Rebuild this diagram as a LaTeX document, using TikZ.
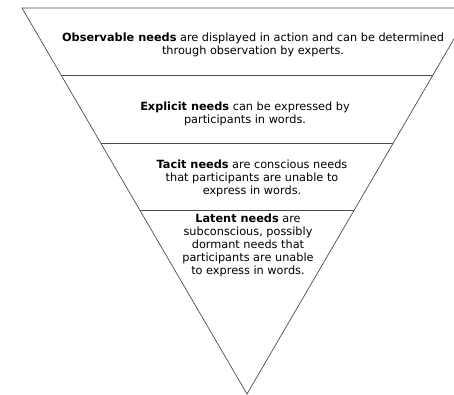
\documentclass[tikz,border=0pt]{standalone}
\usepackage{fontspec}
\setmainfont{DejaVu Sans}

\tikzset{
	layer/.style={draw=black!70, line width=0.7pt},
	needtext/.style={align=center, inner sep=0pt, font=\fontsize{11.3}{13}\selectfont}
}

\begin{document}
\begin{tikzpicture}[x=1pt, y=-1pt]
		\useasboundingbox (0, 0) rectangle (454, 395);
		\clip (0, 0) rectangle (454, 395);
		% funnel
		\draw[layer] (22, 8) -- (472, 8) -- (247, 394) -- cycle;
		\draw[layer] (61.1, 75) -- (432.9, 75);
		\draw[layer] (100.7, 143) -- (393.3, 143);
		\draw[layer] (139.8, 210) -- (354.2, 210);
		% texts
		\node[needtext] (observable) at (253, 45) {\textbf{Observable needs} are displayed in action and can be determined\\through observation by experts.};
		\node[needtext] (explicit) at (245, 114) {\textbf{Explicit needs} can be expressed by\\participants in words.};
		\node[needtext] (tacit) at (252, 178) {\textbf{Tacit needs} are conscious needs\\that participants are unable to\\express in words.};
		\node[needtext] (latent) at (248, 245) {\textbf{Latent needs} are\\subconscious, possibly\\dormant needs that\\participants are unable\\to express in words.};
	\end{tikzpicture}
\end{document}
